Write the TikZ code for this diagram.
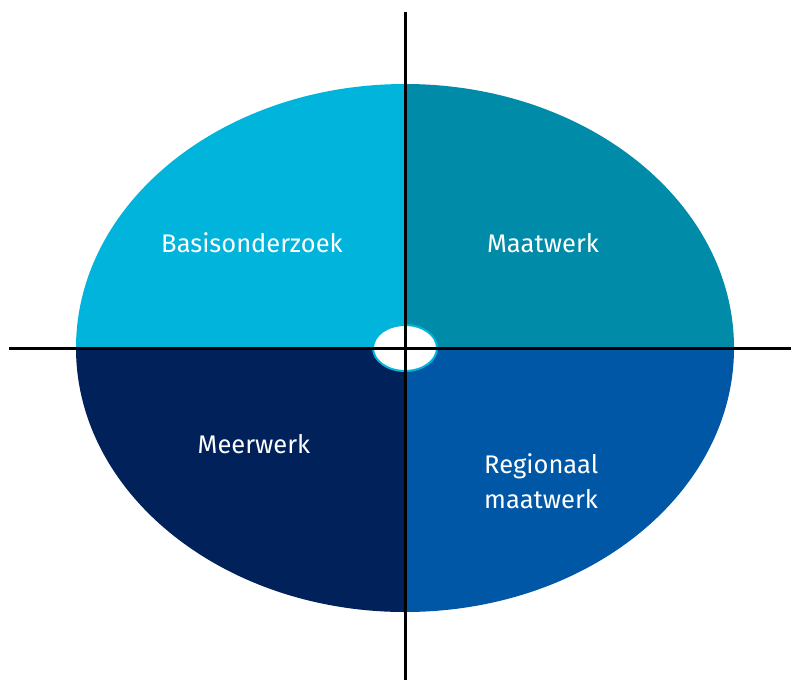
\documentclass[tikz,border=0pt]{standalone}
\usepackage{fontspec}
\setmainfont{Fira Sans}
\usepackage{tikz}
\usetikzlibrary{arrows.meta, calc}
\definecolor{basisBlue}{HTML}{00B4DC}
\definecolor{maatBlue}{HTML}{008BA8}
\definecolor{meerBlue}{HTML}{00215A}
\definecolor{regioBlue}{HTML}{0057A6}
\tikzset{quadlabel/.style={text=white, font=\fontsize{25.5}{35}\selectfont, inner sep=0}}

\begin{document}
\begin{tikzpicture}[x=1pt, y=-1pt]
	\useasboundingbox (0,0) rectangle (791,680);
	\coordinate (c) at (405,348);

	\fill[basisBlue] (c) -- ++(-329,0) arc[start angle=180, end angle=90, x radius=329, y radius=-264] -- cycle;
	\fill[maatBlue] (c) -- ++(0,-264) arc[start angle=90, end angle=0, x radius=329, y radius=-264] -- cycle;
	\fill[regioBlue] (c) -- ++(329,0) arc[start angle=0, end angle=-90, x radius=329, y radius=-264] -- cycle;
	\fill[meerBlue] (c) -- ++(0,264) arc[start angle=-90, end angle=-180, x radius=329, y radius=-264] -- cycle;

	\filldraw[fill=white, draw=basisBlue, line width=2pt] (c) ellipse[x radius=32, y radius=23];

	\coordinate (top) at (405,12);
	\coordinate (bottom) at (405,680);
	\coordinate (left) at (9,348);
	\coordinate (right) at (791,348);
	\draw[black, line width=3pt] (top) -- (bottom);
	\draw[black, line width=3pt] (left) -- (right);

	\node[quadlabel] (basis) at (252,243) {Basisonderzoek};
	\node[quadlabel] (maat) at (543,243) {Maatwerk};
	\node[quadlabel] (meer) at (254,444) {Meerwerk};
	\node[quadlabel, align=left, anchor=west] (regio) at (484,481) {Regionaal\\maatwerk};
\end{tikzpicture}
\end{document}
